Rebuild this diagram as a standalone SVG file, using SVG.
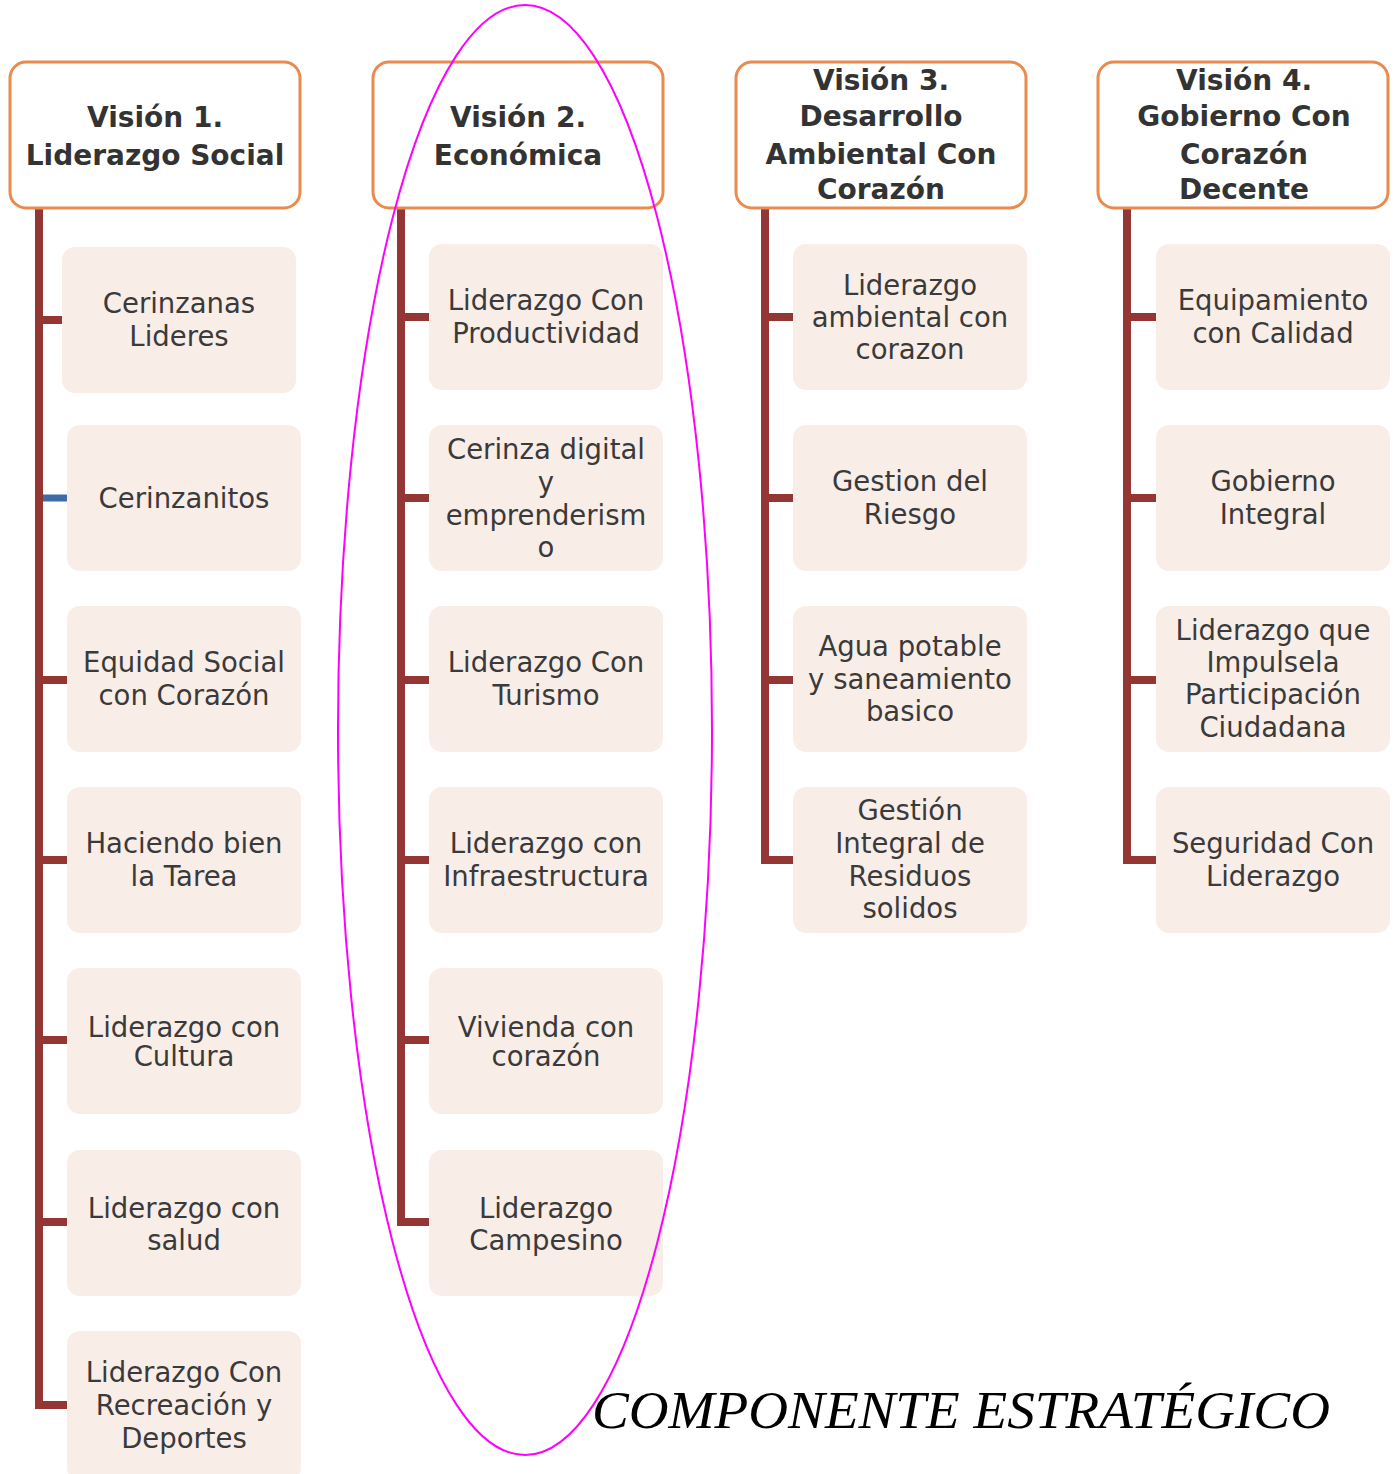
<svg xmlns="http://www.w3.org/2000/svg" width="1399" height="1474" viewBox="0 0 1399 1474">
<style>
.hdr{fill:#fff;stroke:#E98A4F;stroke-width:3}
.box{fill:#F9EDE8}
.ht{font-family:"DejaVu Sans",sans-serif;font-weight:bold;font-size:28px;fill:#333;text-anchor:middle}
.bt{font-family:"DejaVu Sans",sans-serif;font-size:27.5px;fill:#3a3a3a;text-anchor:middle}
.ln{fill:none;stroke:#943634;stroke-width:8;stroke-linejoin:miter}
</style>
<rect width="1399" height="1474" fill="#fff"/>
<g id="connectors">
<path class="ln" d="M39 208 V1405 H67 M39 320 H63 M39 680 H67 M39 860 H67 M39 1040 H67 M39 1222 H67"/>
<path d="M43 498 H68" stroke="#3B6CA8" stroke-width="7"/>
<path class="ln" d="M401 208 V1222 H429 M401 317 H429 M401 498 H429 M401 680 H429 M401 860 H429 M401 1040 H429"/>
<path class="ln" d="M765 208 V860 H793 M765 317 H793 M765 498 H793 M765 680 H793"/>
<path class="ln" d="M1127 208 V860 H1156 M1127 317 H1156 M1127 498 H1156 M1127 680 H1156"/>
</g>
<g id="v1"><rect class="hdr" x="10" y="62" width="290" height="146" rx="16"/><text class="ht" x="155" y="127">Visión 1.</text><text class="ht" x="155" y="165">Liderazgo Social</text></g>
<g id="v2"><rect class="hdr" x="373" y="62" width="290" height="146" rx="16"/><text class="ht" x="518" y="127">Visión 2.</text><text class="ht" x="518" y="165">Económica</text></g>
<g id="v3"><rect class="hdr" x="736" y="62" width="290" height="146" rx="16"/><text class="ht" x="881" y="90">Visión 3.</text><text class="ht" x="881" y="126">Desarrollo</text><text class="ht" x="881" y="164">Ambiental Con</text><text class="ht" x="881" y="199">Corazón</text></g>
<g id="v4"><rect class="hdr" x="1098" y="62" width="290" height="146" rx="16"/><text class="ht" x="1244" y="90">Visión 4.</text><text class="ht" x="1244" y="126">Gobierno Con</text><text class="ht" x="1244" y="164">Corazón</text><text class="ht" x="1244" y="199">Decente</text></g>

<g id="c1r1"><rect class="box" x="62" y="247" width="234" height="146" rx="13"/><text class="bt" x="179" y="313">Cerinzanas</text><text class="bt" x="179" y="346">Lideres</text></g>
<g id="c1r2"><rect class="box" x="67" y="425" width="234" height="146" rx="13"/><text class="bt" x="184" y="508">Cerinzanitos</text></g>
<g id="c1r3"><rect class="box" x="67" y="606" width="234" height="146" rx="13"/><text class="bt" x="184" y="672">Equidad Social</text><text class="bt" x="184" y="705">con Corazón</text></g>
<g id="c1r4"><rect class="box" x="67" y="787" width="234" height="146" rx="13"/><text class="bt" x="184" y="853">Haciendo bien</text><text class="bt" x="184" y="886">la Tarea</text></g>
<g id="c1r5"><rect class="box" x="67" y="968" width="234" height="146" rx="13"/><text class="bt" x="184" y="1037">Liderazgo con</text><text class="bt" x="184" y="1066">Cultura</text></g>
<g id="c1r6"><rect class="box" x="67" y="1150" width="234" height="146" rx="13"/><text class="bt" x="184" y="1218">Liderazgo con</text><text class="bt" x="184" y="1250">salud</text></g>
<g id="c1r7"><rect class="box" x="67" y="1331" width="234" height="150" rx="13"/><text class="bt" x="184" y="1382">Liderazgo Con</text><text class="bt" x="184" y="1415">Recreación y</text><text class="bt" x="184" y="1448">Deportes</text></g>

<g id="c2r1"><rect class="box" x="429" y="244" width="234" height="146" rx="13"/><text class="bt" x="546" y="310">Liderazgo Con</text><text class="bt" x="546" y="343">Productividad</text></g>
<g id="c2r2"><rect class="box" x="429" y="425" width="234" height="146" rx="13"/><text class="bt" x="546" y="459">Cerinza digital</text><text class="bt" x="546" y="492">y</text><text class="bt" x="546" y="525">emprenderism</text><text class="bt" x="546" y="557">o</text></g>
<g id="c2r3"><rect class="box" x="429" y="606" width="234" height="146" rx="13"/><text class="bt" x="546" y="672">Liderazgo Con</text><text class="bt" x="546" y="705">Turismo</text></g>
<g id="c2r4"><rect class="box" x="429" y="787" width="234" height="146" rx="13"/><text class="bt" x="546" y="853">Liderazgo con</text><text class="bt" x="546" y="886">Infraestructura</text></g>
<g id="c2r5"><rect class="box" x="429" y="968" width="234" height="146" rx="13"/><text class="bt" x="546" y="1037">Vivienda con</text><text class="bt" x="546" y="1066">corazón</text></g>
<g id="c2r6"><rect class="box" x="429" y="1150" width="234" height="146" rx="13"/><text class="bt" x="546" y="1218">Liderazgo</text><text class="bt" x="546" y="1250">Campesino</text></g>

<g id="c3r1"><rect class="box" x="793" y="244" width="234" height="146" rx="13"/><text class="bt" x="910" y="295">Liderazgo</text><text class="bt" x="910" y="327">ambiental con</text><text class="bt" x="910" y="359">corazon</text></g>
<g id="c3r2"><rect class="box" x="793" y="425" width="234" height="146" rx="13"/><text class="bt" x="910" y="491">Gestion del</text><text class="bt" x="910" y="524">Riesgo</text></g>
<g id="c3r3"><rect class="box" x="793" y="606" width="234" height="146" rx="13"/><text class="bt" x="910" y="656">Agua potable</text><text class="bt" x="910" y="689">y saneamiento</text><text class="bt" x="910" y="721">basico</text></g>
<g id="c3r4"><rect class="box" x="793" y="787" width="234" height="146" rx="13"/><text class="bt" x="910" y="820">Gestión</text><text class="bt" x="910" y="853">Integral de</text><text class="bt" x="910" y="886">Residuos</text><text class="bt" x="910" y="918">solidos</text></g>

<g id="c4r1"><rect class="box" x="1156" y="244" width="234" height="146" rx="13"/><text class="bt" x="1273" y="310">Equipamiento</text><text class="bt" x="1273" y="343">con Calidad</text></g>
<g id="c4r2"><rect class="box" x="1156" y="425" width="234" height="146" rx="13"/><text class="bt" x="1273" y="491">Gobierno</text><text class="bt" x="1273" y="524">Integral</text></g>
<g id="c4r3"><rect class="box" x="1156" y="606" width="234" height="146" rx="13"/><text class="bt" x="1273" y="640">Liderazgo que</text><text class="bt" x="1273" y="672">Impulsela</text><text class="bt" x="1273" y="704">Participación</text><text class="bt" x="1273" y="737">Ciudadana</text></g>
<g id="c4r4"><rect class="box" x="1156" y="787" width="234" height="146" rx="13"/><text class="bt" x="1273" y="853">Seguridad Con</text><text class="bt" x="1273" y="886">Liderazgo</text></g>

<ellipse id="highlight" cx="525" cy="730" rx="187" ry="725" fill="none" stroke="#FF00FF" stroke-width="2"/>
<text id="title" x="592" y="1428" textLength="738" lengthAdjust="spacingAndGlyphs" font-family="'Liberation Serif',serif" font-style="italic" font-size="52" fill="#000">COMPONENTE ESTRATÉGICO</text>
</svg>
